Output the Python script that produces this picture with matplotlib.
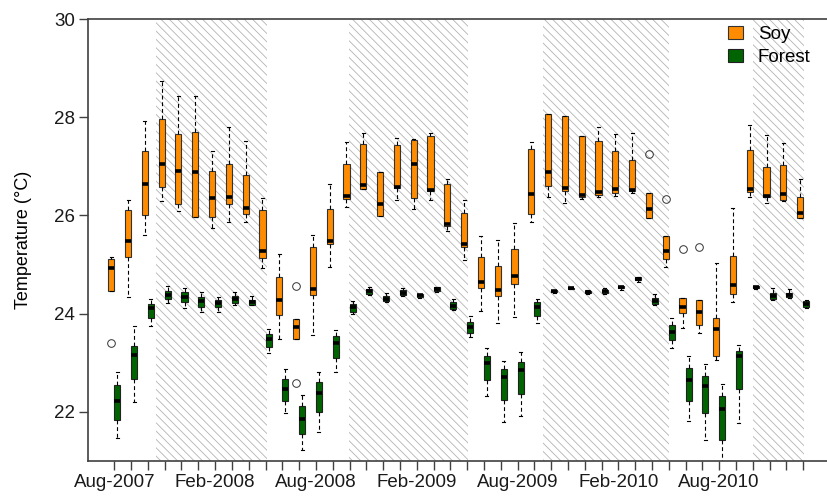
import matplotlib
matplotlib.use('Agg')
import matplotlib.pyplot as plt
from matplotlib.patches import Patch
import numpy as np

plt.rcParams['font.family'] = ['Liberation Sans', 'DejaVu Sans']
plt.rcParams['hatch.linewidth'] = 0.6

# monthly temperature summaries, Aug-2007 .. Jan-2011
month_names = ['Aug', 'Sep', 'Oct', 'Nov', 'Dec', 'Jan', 'Feb', 'Mar', 'Apr', 'May', 'Jun', 'Jul']
first_year = 2007
n_months = 42

soy_lo = [24.47, 24.33, 25.60, 26.29, 26.09, 25.97, 25.75, 25.86, 25.87, 24.94,
          23.49, 23.48, 23.57, 24.96, 26.18, 26.53, 25.99, 26.31, 26.14, 26.31,
          25.68, 25.09, 24.06, 23.82, 23.93, 25.86, 26.38, 26.26, 26.33, 26.38,
          26.40, 26.45, 25.95, 24.96, 23.71, 23.60, 23.06, 24.23, 26.38, 26.26,
          26.29, 25.95]
soy_q1 = [24.47, 25.15, 26.00, 26.57, 26.24, 25.97, 25.96, 26.23, 26.02, 25.13,
          23.98, 23.48, 24.37, 25.42, 26.33, 26.53, 25.99, 26.55, 26.35, 26.50,
          25.78, 25.35, 24.52, 24.35, 24.60, 26.02, 26.60, 26.49, 26.37, 26.41,
          26.46, 26.49, 25.95, 25.11, 24.01, 23.77, 23.14, 24.40, 26.48, 26.38,
          26.31, 25.95]
soy_med = [24.92, 25.48, 26.64, 27.04, 26.91, 26.88, 26.36, 26.38, 26.15, 25.28,
           24.28, 23.72, 24.50, 25.48, 26.39, 26.63, 26.24, 26.57, 27.04, 26.51,
           25.82, 25.41, 24.64, 24.48, 24.77, 26.43, 26.89, 26.56, 26.41, 26.48,
           26.53, 26.51, 26.13, 25.28, 24.13, 24.04, 23.69, 24.58, 26.54, 26.40,
           26.43, 26.05]
soy_q3 = [25.11, 26.11, 27.31, 27.97, 27.66, 27.69, 26.91, 27.04, 26.82, 26.11,
          24.75, 23.89, 25.35, 26.14, 27.04, 27.46, 26.89, 27.43, 27.54, 27.62,
          26.64, 26.04, 25.15, 24.98, 25.31, 27.35, 28.07, 28.02, 27.62, 27.52,
          27.31, 27.12, 26.45, 25.59, 24.31, 24.28, 23.92, 25.18, 27.33, 26.99,
          27.02, 26.38]
soy_hi = [25.15, 26.32, 27.92, 28.73, 28.43, 28.43, 27.31, 27.81, 27.52, 26.36,
          25.21, 23.89, 25.60, 26.64, 27.49, 27.68, 26.89, 27.58, 27.56, 27.67,
          26.74, 26.32, 25.59, 25.50, 25.85, 27.49, 28.07, 28.02, 27.62, 27.81,
          27.65, 27.67, 26.45, 25.59, 24.31, 24.28, 25.03, 26.16, 27.85, 27.63,
          27.48, 26.75]
soy_out = {0: [23.40], 11: [24.57, 22.59], 32: [27.26], 33: [26.34],
           34: [25.32], 35: [25.36]}

forest_lo = [21.47, 22.20, 23.74, 24.22, 24.12, 24.03, 24.03, 24.18, 24.17, 23.20,
             21.98, 21.23, 21.59, 22.82, 23.99, 24.38, 24.24, 24.35, 24.31, 24.44,
             24.08, 23.52, 22.32, 21.79, 21.91, 23.81, 24.43, 24.50, 24.40, 24.40,
             24.48, 24.64, 24.18, 23.30, 21.81, 21.42, 20.90, 21.78, 24.50, 24.27,
             24.32, 24.11]
forest_q1 = [21.84, 22.67, 23.91, 24.30, 24.23, 24.13, 24.13, 24.21, 24.18, 23.33,
             22.22, 21.55, 22.00, 23.10, 24.04, 24.40, 24.26, 24.37, 24.33, 24.47,
             24.10, 23.60, 22.64, 22.24, 22.37, 23.96, 24.44, 24.51, 24.42, 24.43,
             24.52, 24.68, 24.20, 23.47, 22.22, 21.98, 21.42, 22.47, 24.52, 24.29,
             24.34, 24.14]
forest_med = [22.22, 23.16, 24.11, 24.39, 24.33, 24.25, 24.21, 24.29, 24.23, 23.48,
              22.47, 21.86, 22.39, 23.40, 24.13, 24.46, 24.30, 24.43, 24.37, 24.51,
              24.16, 23.73, 22.99, 22.71, 22.86, 24.14, 24.46, 24.52, 24.45, 24.46,
              24.54, 24.71, 24.26, 23.62, 22.64, 22.52, 22.06, 23.14, 24.54, 24.36,
              24.38, 24.20]
forest_q3 = [22.54, 23.35, 24.20, 24.47, 24.44, 24.33, 24.28, 24.36, 24.28, 23.58,
             22.67, 22.13, 22.61, 23.55, 24.20, 24.50, 24.35, 24.48, 24.40, 24.54,
             24.23, 23.84, 23.14, 22.88, 23.02, 24.23, 24.48, 24.53, 24.47, 24.48,
             24.56, 24.74, 24.31, 23.76, 22.89, 22.74, 22.32, 23.24, 24.56, 24.43,
             24.42, 24.25]
forest_hi = [22.82, 23.74, 24.30, 24.56, 24.52, 24.45, 24.33, 24.44, 24.35, 23.69,
             22.87, 22.35, 22.82, 23.67, 24.26, 24.54, 24.42, 24.52, 24.41, 24.55,
             24.29, 23.96, 23.30, 23.03, 23.21, 24.29, 24.49, 24.54, 24.49, 24.52,
             24.57, 24.75, 24.40, 23.91, 23.13, 22.98, 22.57, 23.37, 24.57, 24.52,
             24.50, 24.28]
forest_out = {}

# wet season spans, in months since Aug-2007
wet_start = [2.46, 13.97, 25.5, 38.0]
wet_end = [9.07, 21.07, 33.04, 41.05]


def make_stats(lo, q1, med, q3, hi, out):
    st = []
    for i in range(len(med)):
        st.append(dict(whislo=lo[i], q1=q1[i], med=med[i], q3=q3[i],
                       whishi=hi[i], fliers=out.get(i, [])))
    return st


fig = plt.figure(figsize=(8.28, 5), dpi=100)
ax = fig.add_axes([88/828, 39/500, 1 - 88/828, 442/500])

for a, b in zip(wet_start, wet_end):
    ax.axvspan(a, b, facecolor='none', edgecolor='#b4b4b4', hatch='\\\\\\\\',
               linewidth=0, zorder=0)

x = np.arange(n_months)
common = dict(widths=0.36, patch_artist=True, manage_ticks=False,
              medianprops=dict(color='black', linewidth=2.6),
              whiskerprops=dict(color='black', linewidth=0.8, linestyle=(0, (3.5, 2.5))),
              capprops=dict(color='black', linewidth=0.8),
              flierprops=dict(marker='o', markerfacecolor='none', markeredgecolor='#333333',
                              markersize=5.5, markeredgewidth=0.7))

ax.bxp(make_stats(soy_lo, soy_q1, soy_med, soy_q3, soy_hi, soy_out),
       positions=x - 0.18,
       boxprops=dict(facecolor='darkorange', edgecolor='#333333', linewidth=0.8),
       **common)
ax.bxp(make_stats(forest_lo, forest_q1, forest_med, forest_q3, forest_hi, forest_out),
       positions=x + 0.18,
       boxprops=dict(facecolor='darkgreen', edgecolor='#222222', linewidth=0.8),
       **common)

ax.set_xlim(-1.565, 42.48)
ax.set_ylim(21, 30)
ax.set_yticks([22, 24, 26, 28, 30])

labels = []
for i in range(n_months):
    if i % 6 == 0:
        labels.append('%s-%d' % (month_names[i % 12], first_year + (i + 7) // 12))
    else:
        labels.append('')
ax.set_xticks(x)
ax.set_xticklabels(labels)

ax.tick_params(axis='both', length=6.5, width=1.0, color='#404040',
               labelsize=13.5, labelcolor='#1a1a1a')
ax.tick_params(axis='x', pad=3)
ax.tick_params(axis='y', pad=3)
ax.spines['right'].set_visible(False)
for s in ['top', 'left', 'bottom']:
    ax.spines[s].set_color('#404040')
    ax.spines[s].set_linewidth(1.2)

ax.set_ylabel('Temperature (°C)', fontsize=13, labelpad=16)

handles = [Patch(facecolor='darkorange', edgecolor='#333333', linewidth=0.8),
           Patch(facecolor='darkgreen', edgecolor='#222222', linewidth=0.8)]
ax.legend(handles, ['Soy', 'Forest'], loc='upper left',
          bbox_to_anchor=(728/828, 1 - 26/500), bbox_transform=fig.transFigure,
          frameon=False, fontsize=13.5, handlelength=0.8, handleheight=0.7,
          handletextpad=0.8, labelspacing=0.3, borderaxespad=0, borderpad=0)

fig.savefig('out.png', dpi=100)
